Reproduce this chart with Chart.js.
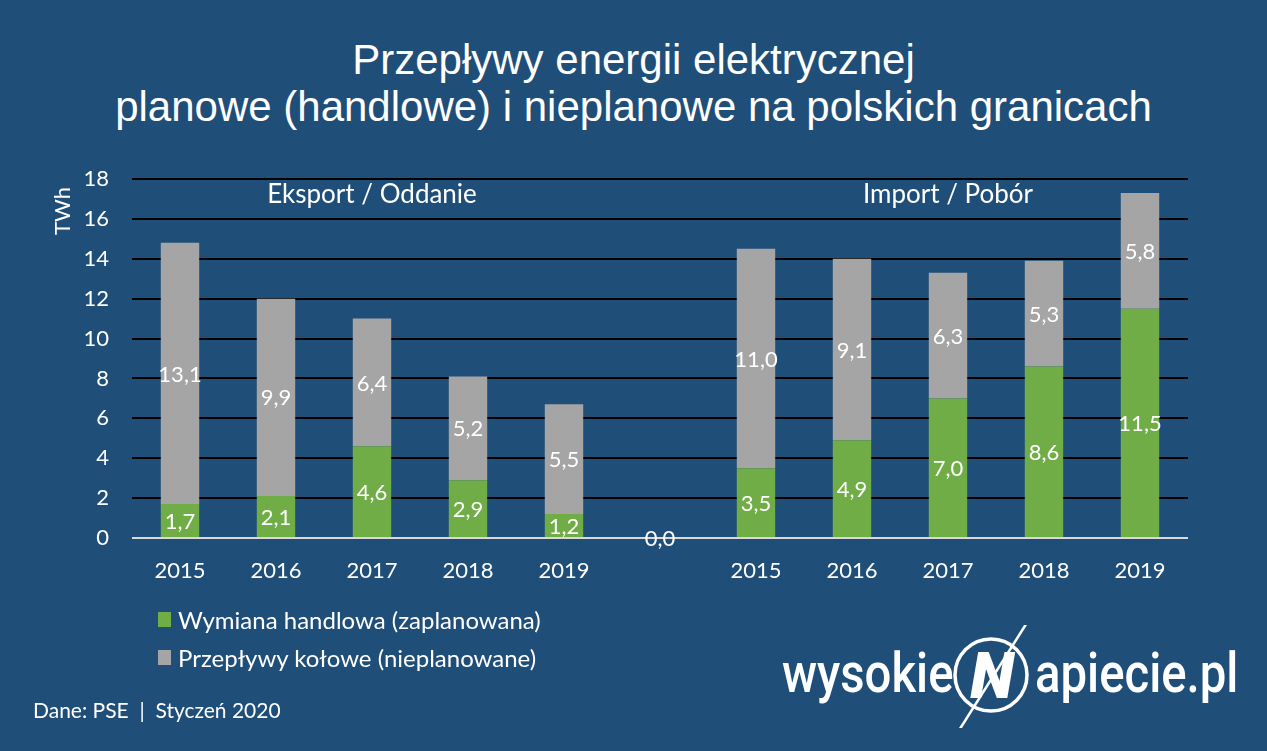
<!DOCTYPE html>
<html>
<head>
<meta charset="utf-8">
<script src="https://cdn.jsdelivr.net/npm/chart.js@4"></script>
<style>
  html, body { margin: 0; padding: 0; }
  body { width: 1267px; height: 751px; background: #1f4e79; position: relative; overflow: hidden; font-family: Lato, sans-serif; color: #fff; }
  #chartBox { position: absolute; left: 0; top: 0; width: 1267px; height: 751px; }
  #title { position: absolute; left: 0; top: 36px; width: 1267px; text-align: center; font-family: "Liberation Sans", Arial, sans-serif; font-size: 42px; line-height: 47px; }
  #legend { position: absolute; left: 158px; top: 600px; font-size: 24px; }
  #legend div { height: 38px; display: flex; align-items: center; }
  #legend span.box { display: inline-block; width: 13px; height: 15px; margin-right: 7px; }
  #footer { position: absolute; left: 33px; top: 697px; font-size: 21px; }
  #logo { position: absolute; left: 780px; top: 620px; width: 470px; height: 120px; }
  #logo .word { position: absolute; top: 13px; font-family: Roboto, sans-serif; font-weight: 500; font-size: 55px; line-height: 80px; transform: scaleX(0.86); transform-origin: left top; }
</style>
</head>
<body>
<div id="title">Przepływy energii elektrycznej<br>planowe (handlowe) i nieplanowe na polskich granicach</div>
<div id="chartBox"><canvas id="chart_canvas"></canvas></div>
<div id="legend"></div>
<div id="footer">Dane: PSE &nbsp;|&nbsp; Styczeń 2020</div>
<div id="logo">
  <span class="word" style="left:2px">wysokie</span>
  <svg style="position:absolute;left:160px;top:0px" width="100" height="120" viewBox="0 0 100 120">
    <ellipse cx="51" cy="55" rx="36" ry="36" fill="none" stroke="#fff" stroke-width="3.5"/>
    <text x="52" y="78" text-anchor="middle" font-family="Roboto" font-weight="900" font-style="italic" font-size="64" fill="#fff">N</text>
    <polygon points="84,5 87,5 22,108 19,108" fill="#fff"/>
  </svg>
  <span class="word" style="left:255px">apiecie.pl</span>
</div>
<script>
const categories = ["2015", "2016", "2017", "2018", "2019", "", "2015", "2016", "2017", "2018", "2019"];
const plannedValues = [1.7, 2.1, 4.6, 2.9, 1.2, 0, 3.5, 4.9, 7.0, 8.6, 11.5];
const loopValues = [13.1, 9.9, 6.4, 5.2, 5.5, null, 11.0, 9.1, 6.3, 5.3, 5.8];
const seriesNames = ["Wymiana handlowa (zaplanowana)", "Przepływy kołowe (nieplanowane)"];
const sectionNames = ["Eksport / Oddanie", "Import / Pobór"];
const sectionCategory = [2, 8];
const sectionLevel = 17.2;
const yTicks = [0, 2, 4, 6, 8, 10, 12, 14, 16, 18];
const unitName = "TWh";

function fmt(v)
{
  return v.toFixed(1).replace(".", ",");
}

const labelPlugin = {
  id: "labels",
  afterDatasetsDraw(chart)
  {
    const ctx = chart.ctx;
    ctx.save();
    ctx.fillStyle = "#fff";
    ctx.textAlign = "center";
    ctx.textBaseline = "middle";
    ctx.font = "22px Lato";
    chart.data.datasets.forEach((ds, i) => {
      chart.getDatasetMeta(i).data.forEach((bar, j) => {
        const v = ds.data[j];
        if (v === null || v === undefined) return;
        ctx.fillText(fmt(v), bar.x, (bar.y + bar.base) / 2 + 1);
      });
    });

    // section headers
    ctx.font = "26px Lato";
    sectionNames.forEach((name, i) => {
      ctx.fillText(name, chart.scales.x.getPixelForValue(sectionCategory[i]), chart.scales.y.getPixelForValue(sectionLevel));
    });

    // unit title, rotated
    ctx.font = "22px Lato";
    ctx.translate(63, 211);
    ctx.rotate(-Math.PI / 2);
    ctx.fillText(unitName, 0, 0);
    ctx.restore();
  }
};

const config = {
  type: "bar",
  data: {
    labels: categories,
    datasets: [
      { label: seriesNames[0], data: plannedValues, backgroundColor: "#70ad47" },
      { label: seriesNames[1], data: loopValues, backgroundColor: "#a5a5a5" }
    ]
  },
  options: {
    responsive: true,
    maintainAspectRatio: false,
    animation: false,
    layout: { padding: { left: 0, top: 179, right: 79, bottom: 163 } },
    datasets: { bar: { categoryPercentage: 1, barPercentage: 0.4 } },
    plugins: {
      legend: { display: false },
      tooltip: { enabled: false }
    },
    scales: {
      x: {
        stacked: true,
        grid: { display: false, drawTicks: false },
        border: { display: false },
        ticks: { color: "#fff", font: { family: "Lato", size: 22 }, padding: 20, maxRotation: 0 },
        afterFit: (scale) => { scale.height = 50; }
      },
      y: {
        stacked: true,
        min: 0,
        max: 18,
        afterBuildTicks: (scale) => { scale.ticks = yTicks.map(v => ({ value: v })); },
        grid: {
          drawTicks: false,
          lineWidth: 2,
          color: (c) => c.index === 0 ? "#d9d9d9" : "#000"
        },
        border: { display: false },
        ticks: { color: "#fff", font: { family: "Lato", size: 22 }, padding: 23 },
        afterFit: (scale) => { scale.width = 132; }
      }
    }
  },
  plugins: [labelPlugin]
};

const chart = new Chart(document.getElementById("chart_canvas"), config);

// html legend from datasets
const legendEl = document.getElementById("legend");
chart.data.datasets.forEach(ds => {
  const row = document.createElement("div");
  const box = document.createElement("span");
  box.className = "box";
  box.style.background = ds.backgroundColor;
  row.appendChild(box);
  row.appendChild(document.createTextNode(ds.label));
  legendEl.appendChild(row);
});
</script>
</body>
</html>
